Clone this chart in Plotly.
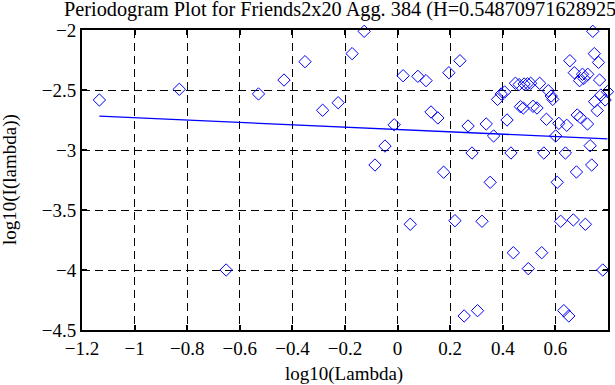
import plotly.graph_objects as go

H = 0.548709716289256
title_text = "Periodogram Plot for Friends2x20 Agg. 384 (H=0.548709716289256)"
x_label = "log10(Lambda)"
y_label = "log10(I(lambda))"

log_lambda = [
    -1.134, -0.830, -0.652, -0.529, -0.432, -0.352, -0.285, -0.226, -0.173, -0.127,
    -0.086, -0.048, -0.013, 0.021, 0.048, 0.077, 0.108, 0.127, 0.153, 0.175,
    0.195, 0.218, 0.237, 0.253, 0.268, 0.283, 0.304, 0.321, 0.337, 0.352,
    0.365, 0.380, 0.394, 0.407, 0.416, 0.431, 0.440, 0.448, 0.467, 0.478,
    0.481, 0.497, 0.506, 0.515, 0.530, 0.540, 0.548, 0.556, 0.566, 0.573,
    0.584, 0.590, 0.601, 0.607, 0.613, 0.620, 0.632, 0.638, 0.643, 0.651,
    0.655, 0.668, 0.672, 0.680, 0.683, 0.692, 0.694, 0.703, 0.708, 0.714,
    0.722, 0.723, 0.732, 0.738, 0.742, 0.748, 0.749, 0.759, 0.764, 0.768,
    0.773, 0.780, 0.789, 0.798, 0.462, 0.494,
]
log_I = [
    -2.583, -2.494, -4.000, -2.533, -2.417, -2.264, -2.669, -2.606, -2.197, -2.011,
    -3.125, -2.967, -2.790, -2.381, -3.619, -2.386, -2.422, -2.683, -2.733, -3.185,
    -2.356, -3.589, -2.256, -4.383, -2.800, -3.025, -4.339, -3.594, -2.783, -3.269,
    -2.883, -2.578, -2.533, -2.517, -2.750, -3.025, -3.856, -2.444, -2.639, -2.650,
    -2.450, -3.989, -2.444, -2.636, -2.650, -2.444, -3.856, -3.025, -2.744, -2.506,
    -2.550, -2.578, -2.883, -3.269, -2.778, -3.594, -4.339, -3.025, -2.794, -4.383,
    -2.256, -3.583, -2.356, -3.183, -2.708, -2.422, -2.728, -2.369, -2.403, -3.619,
    -2.783, -2.369, -2.964, -3.125, -2.011, -2.197, -2.597, -2.672, -2.270, -2.417,
    -2.542, -4.000, -2.583, -2.514, -2.455, -2.448,
]

fit_intercept = -2.829
fit_slope = 1 - 2 * H

x_ticks = [-1.2, -1, -0.8, -0.6, -0.4, -0.2, 0, 0.2, 0.4, 0.6, 0.8]
y_ticks = [-4.5, -4, -3.5, -3, -2.5, -2]

line_x = [min(log_lambda), max(log_lambda)]
line_y = [fit_intercept + fit_slope * v for v in line_x]

FAM = "Liberation Serif, Times New Roman, serif"
tick_font = dict(family=FAM, color="black", size=19)
label_font = dict(family=FAM, color="black", size=19)

W, Hpx = 615, 385
L, R, T, B = 82, 7, 30, 55
pw, ph = W - L - R, Hpx - T - B

fig = go.Figure()
fig.add_trace(go.Scatter(
    x=log_lambda, y=log_I, mode="markers",
    marker=dict(symbol="diamond-open", size=9.5, color="#0000ff", line=dict(width=1, color="#0000ff")),
    showlegend=False, cliponaxis=False,
))
fig.add_trace(go.Scatter(
    x=line_x, y=line_y, mode="lines",
    line=dict(color="#0000ff", width=1.3), showlegend=False,
))

axis_common = dict(
    showgrid=True, gridcolor="black", gridwidth=1, griddash="8px,5px",
    showline=True, linecolor="black", linewidth=2, mirror="ticks",
    ticks="inside", ticklen=5, tickwidth=2, tickcolor="black",
    zeroline=False, tickfont=tick_font, automargin=False,
)

def fmt(v):
    return f"{v:g}".replace("-", "\u2212")

fig.update_xaxes(range=[-1.2, 0.8], tickvals=x_ticks, ticktext=[fmt(v) for v in x_ticks], **axis_common)
fig.update_yaxes(range=[-4.5, -2], tickvals=y_ticks, ticktext=[fmt(v) for v in y_ticks], **axis_common)

fig.add_annotation(text=x_label, xref="paper", yref="paper",
                   x=(344 - L) / pw, y=(Hpx - B - 374) / ph,
                   xanchor="center", yanchor="middle", showarrow=False, font=label_font)
fig.add_annotation(text=y_label, xref="paper", yref="paper",
                   x=(10 - L) / pw, y=(Hpx - B - 180) / ph, textangle=-90,
                   xanchor="center", yanchor="middle", showarrow=False, font=label_font)

fig.update_layout(
    width=W, height=Hpx,
    margin=dict(l=L, r=R, t=T, b=B),
    paper_bgcolor="white", plot_bgcolor="white",
    font=tick_font,
    title=dict(text=title_text, font=dict(family=FAM, size=20.3, color="black"),
               xref="container", x=64 / W, xanchor="left",
               yref="container", y=1 - 9 / Hpx, yanchor="middle"),
)

fig.write_html("out.html", config={"displayModeBar": False},
               post_script="document.body.style.margin='0px';")
